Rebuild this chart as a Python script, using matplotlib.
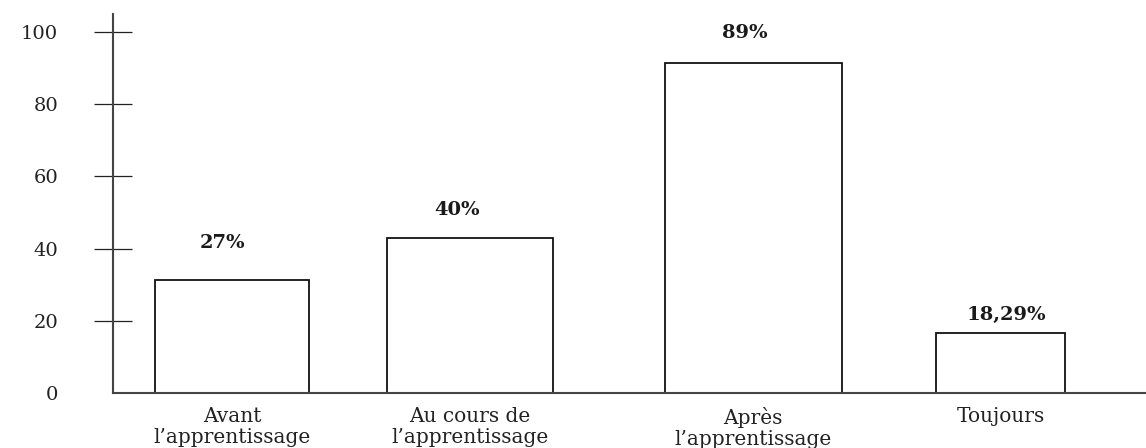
import matplotlib.pyplot as plt

# data
categories = ["Avant\nl’apprentissage", "Au cours de\nl’apprentissage",
              "Après\nl’apprentissage", "Toujours"]
bar_heights = [31.3, 42.9, 91.4, 16.6]
bar_labels = ["27%", "40%", "89%", "18,29%"]
y_ticks = [0, 20, 40, 60, 80, 100]

# layout (irregular spacing and widths as in the hand-drawn original)
x_pos = [0, 1, 2.19, 3.23]
widths = [0.647, 0.697, 0.744, 0.542]
label_dx = [-10, -13, -8, 6]   # pixels
label_dy = [37, 28, 30, 18]    # pixels

plt.rcParams["font.family"] = ["DejaVu Serif", "DejaVu Sans"]

fig = plt.figure(figsize=(11.46, 4.48), dpi=100)
ax = fig.add_axes([113 / 1146, 1 - 393 / 448, 1 - 113 / 1146, 379 / 448])

ax.bar(x_pos, bar_heights, width=widths, color="white",
       edgecolor="#111111", linewidth=1.3)

for x, h, lab, dx, dy in zip(x_pos, bar_heights, bar_labels, label_dx, label_dy):
    ax.annotate(lab, (x, h), xytext=(dx * 0.72, dy * 0.72),
                textcoords="offset points", ha="center", va="center",
                fontsize=14, fontweight="bold", color="#1a1a1a")

ax.set_xlim(-0.5, 3.84)
ax.set_ylim(0, 105)

for side in ["top", "right"]:
    ax.spines[side].set_visible(False)
for side in ["left", "bottom"]:
    ax.spines[side].set_color("#444444")
    ax.spines[side].set_linewidth(1.5)

ax.set_yticks(y_ticks)
ax.set_yticklabels([str(v) for v in y_ticks])
ax.tick_params(axis="y", direction="inout", length=27, width=0.9,
               color="#222222", pad=26, labelsize=14, labelcolor="#222222")
ax.yaxis.get_major_ticks()[0].tick1line.set_visible(False)

ax.set_xticks(x_pos)
ax.set_xticklabels(categories)
ax.tick_params(axis="x", length=0, pad=10, labelsize=14.5, labelcolor="#222222")
for t in ax.get_xticklabels():
    t.set_linespacing(1.15)

fig.savefig("out.png", dpi=100)
